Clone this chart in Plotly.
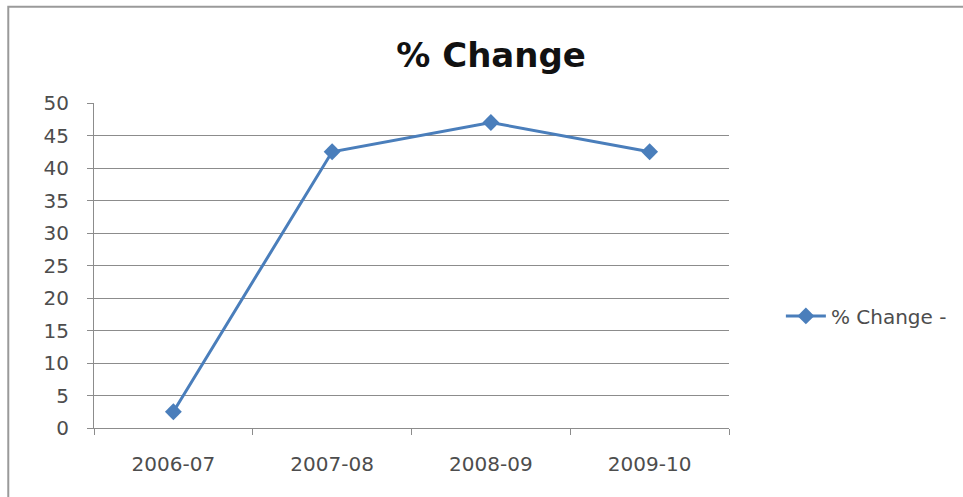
import plotly.graph_objects as go

# Year-on-year percentage change
years = ["2006-07", "2007-08", "2008-09", "2009-10"]
pct_change = [2.5, 42.5, 47.0, 42.5]
y_ticks = [0, 5, 10, 15, 20, 25, 30, 35, 40, 45, 50]

LINE_BLUE = "#4a7ebb"
GRID = "#8c8c8c"
TEXT = "#4d4d4d"
FONT = "DejaVu Sans, sans-serif"

fig = go.Figure()
fig.add_trace(go.Scatter(
    x=years,
    y=pct_change,
    mode="lines+markers",
    name="% Change -",
    line=dict(color=LINE_BLUE, width=3),
    marker=dict(symbol="diamond", size=13, color=LINE_BLUE),
))

fig.update_layout(
    width=963,
    height=497,
    margin=dict(l=94, r=233, t=103, b=69),
    paper_bgcolor="white",
    plot_bgcolor="white",
    font=dict(family=FONT, color=TEXT, size=20),
    title=dict(
        text="<b>% Change</b>",
        x=0.51, xanchor="center",
        y=0.89, yanchor="middle",
        font=dict(family=FONT, size=34, color="#111111"),
    ),
    showlegend=True,
    legend=dict(
        x=1.08, xanchor="left",
        y=0.345, yanchor="middle",
        font=dict(family=FONT, size=20, color=TEXT),
        bgcolor="rgba(0,0,0,0)",
        itemwidth=40,
    ),
    xaxis=dict(
        type="category",
        range=[-0.5, 3.5],
        showgrid=False,
        showline=True,
        linecolor=GRID,
        linewidth=1,
        ticks="outside",
        tickson="boundaries",
        ticklen=6,
        tickcolor=GRID,
        tickfont=dict(size=20, color=TEXT),
        ticklabelstandoff=18,
    ),
    yaxis=dict(
        range=[0, 50],
        tickvals=y_ticks,
        showgrid=True,
        gridcolor=GRID,
        gridwidth=1,
        showline=True,
        linecolor=GRID,
        linewidth=1,
        ticks="outside",
        ticklen=6,
        tickcolor=GRID,
        zeroline=False,
        tickfont=dict(size=20, color=TEXT),
        ticklabelstandoff=14,
    ),
    shapes=[
        # chart frame
        dict(
            type="rect", xref="paper", yref="paper",
            x0=-0.135, x1=1.5, y0=-0.27, y1=1.296,
            line=dict(color="#9a9a9a", width=2),
            fillcolor="rgba(0,0,0,0)",
            layer="below",
        )
    ],
)

fig.write_html("out.html")
